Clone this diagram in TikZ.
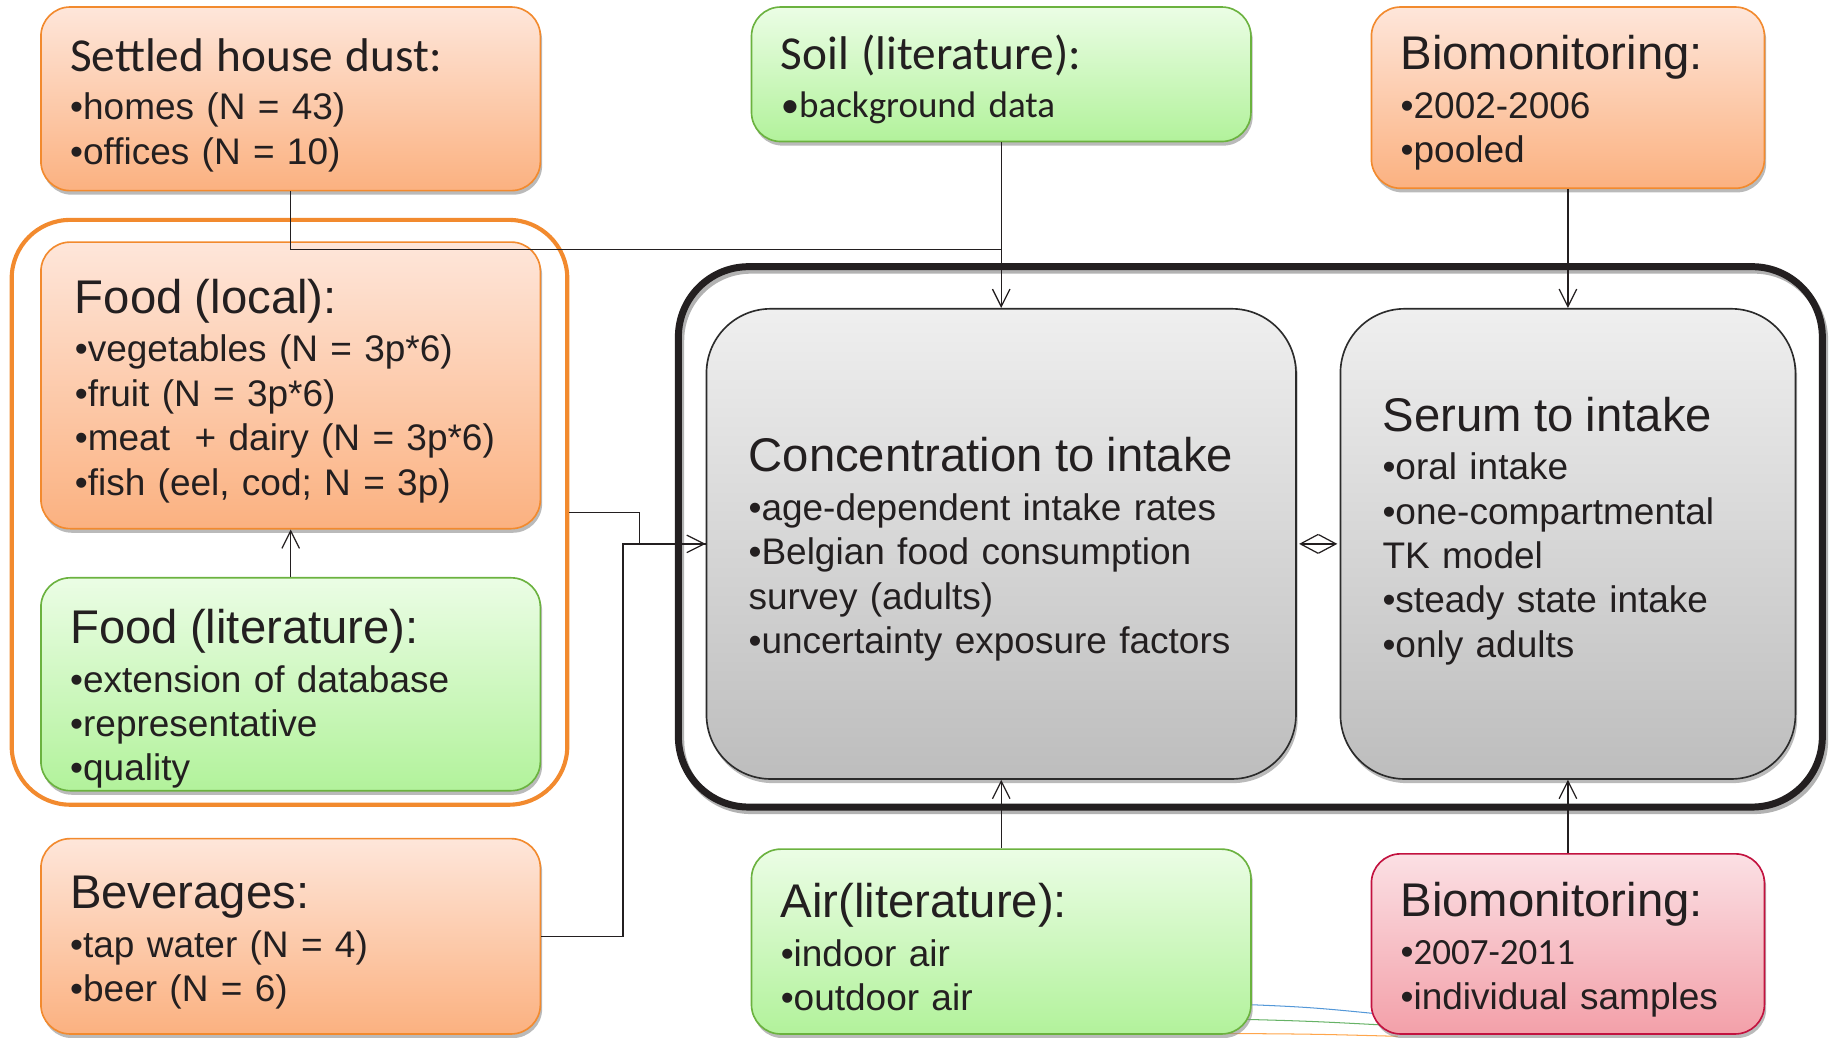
\documentclass[tikz,border=0pt]{standalone}
\usepackage{fontspec}
\setmainfont{Liberation Sans}
\newfontfamily\calfont{Carlito}
\usepackage{xcolor}
\usetikzlibrary{arrows.meta, shadows}
\definecolor{txt}{HTML}{231F20}
\definecolor{orangetop}{HTML}{FEE6DA}
\definecolor{orangebot}{HTML}{FBB180}
\definecolor{orangeline}{HTML}{F28A2E}
\definecolor{greentop}{HTML}{EBFDE5}
\definecolor{greenbot}{HTML}{B2F29B}
\definecolor{greenline}{HTML}{6BB23F}
\definecolor{pinktop}{HTML}{FBE0E4}
\definecolor{pinkbot}{HTML}{F3A0A9}
\definecolor{pinkline}{HTML}{C2123F}
\definecolor{graytop}{HTML}{EFEFEF}
\definecolor{graybot}{HTML}{BDBDBD}
\definecolor{grayline}{HTML}{2B2B2B}
\newcommand{\itemsize}{\fontsize{18}{21.6}\selectfont}
\newcommand{\headsize}{\fontsize{23}{27.6}\selectfont\rule{0pt}{22pt}}
\tikzset{
    srcbox/.style={rounded corners=0.5cm, line width=0.8pt, align=left, inner xsep=0.5cm, inner ysep=0pt,
        text width=7.54cm, font=\itemsize, text=txt,
        drop shadow={shadow xshift=0.03cm, shadow yshift=-0.07cm, fill=black!45, opacity=0.6}},
    orangebox/.style={srcbox, draw=orangeline, top color=orangetop, bottom color=orangebot},
    greenbox/.style={srcbox, draw=greenline, top color=greentop, bottom color=greenbot},
    pinkbox/.style={srcbox, draw=pinkline, top color=pinktop, bottom color=pinkbot},
    graybox/.style={srcbox, rounded corners=1.1cm, draw=grayline, top color=graytop, bottom color=graybot, inner xsep=0.72cm},
    groupframe/.style={rounded corners=1.2cm, line width=3.4pt},
    link/.style={line width=0.6pt, draw=txt},
    flow/.style={link, -{Straight Barb[length=0.3cm, width=0.3cm]}},
    biflow/.style={link, {Straight Barb[length=0.3cm, width=0.32cm]}-{Straight Barb[length=0.3cm, width=0.32cm]}},
    faint/.style={line width=0.5pt}
}

\begin{document}
\begin{tikzpicture}
    \useasboundingbox (0,0) rectangle (31.36,17.74);
    % stray lines behind the bottom boxes
    \draw[faint, cyan!60!blue!70] (20.9,0.58) .. controls (22.4,0.52) .. (23.9,0.37);
    \draw[faint, green!50!black!60] (20.9,0.32) .. controls (22.4,0.28) .. (23.9,0.20);
    \draw[faint, orange!70] (20.6,0.07) .. controls (22.4,0.06) .. (23.9,0.02);
    % group frames
    \node[groupframe, draw=orangeline, line width=2pt, rounded corners=1cm,
        minimum width=9.50cm, minimum height=10.0cm] (foodgroup) at (4.95,8.98) {};
    \node[groupframe, draw=txt, minimum width=19.56cm, minimum height=9.24cm,
        preaction={draw=black!30, transform canvas={shift={(0.04,-0.06)}}}] (model) at (21.38,8.56) {};
    % sources
    \node[orangebox, minimum height=3.14cm] (dust) at (4.97,16.05)
        {{\calfont\headsize Settled house dust:}\\[2pt]
         •homes (N = 43)\\
         •offices (N = 10)};
    \node[greenbox, minimum height=2.30cm] (soil) at (17.12,16.47)
        {{\calfont\headsize Soil (literature):}\\[2pt]
         {\calfont •background data}};
    \node[orangebox, text width=5.72cm, minimum height=3.10cm] (bio1) at (26.81,16.07)
        {{\headsize Biomonitoring:}\\[2pt]
         •2002-2006\\
         •pooled};
    \node[orangebox, inner xsep=0.58cm, text width=7.38cm, minimum height=4.90cm] (foodloc) at (4.97,11.15)
        {{\headsize Food (local):}\\[2pt]
         •vegetables (N = 3p*6)\\
         •fruit (N = 3p*6)\\
         •meat~ + dairy (N = 3p*6)\\
         •fish (eel, cod; N = 3p)};
    \node[greenbox, minimum height=3.64cm] (foodlit) at (4.97,6.04)
        {{\headsize\rule{0pt}{31pt}Food (literature):}\\[2pt]
         •extension of database\\
         •representative\\
         •quality};
    \node[orangebox, minimum height=3.34cm] (bev) at (4.97,1.73)
        {{\headsize Beverages:}\\[2pt]
         •tap water (N = 4)\\
         •beer (N = 6)};
    \node[greenbox, minimum height=3.16cm] (air) at (17.12,1.64)
        {{\headsize Air(literature):}\\[2pt]
         •indoor air\\
         •outdoor air};
    \node[pinkbox, text width=5.72cm, minimum height=3.08cm] (bio2) at (26.81,1.60)
        {{\headsize Biomonitoring:}\\[2pt]
         •{\calfont 2007-2011}\\
         •individual samples};
    % model
    \node[graybox, text width=8.64cm, minimum height=8.04cm] (conc) at (17.12,8.44)
        {{\headsize Concentration to intake}\\[2pt]
         •age-dependent intake rates\\
         •Belgian food consumption\\
         survey (adults)\\
         •uncertainty exposure factors};
    \node[graybox, text width=6.34cm, minimum height=8.04cm] (serum) at (26.81,8.44)
        {{\headsize Serum to intake}\\[2pt]
         •oral intake\\
         •one-compartmental\\
         TK model\\
         •steady state intake\\
         •only adults\\
         \mbox{}};
    % connectors
    \coordinate (join) at (17.12,13.48);
    \draw[link] (dust.south) |- (join);
    \draw[flow] (soil.south) -- (conc.north);
    \draw[flow] (bio1.south) -- (serum.north);
    \draw[flow] (foodlit.north) -- (foodloc.south);
    \draw[flow] (foodgroup.east) -- ++(1.20,0) |- (conc.west);
    \draw[link] (bev.east) -- ++(1.40,0) |- (conc.west);
    \draw[biflow] ([xshift=0.04cm]conc.east) -- ([xshift=-0.04cm]serum.west);
    \draw[flow] (air.north) -- (conc.south);
    \draw[flow] (bio2.north) -- (serum.south);
\end{tikzpicture}
\end{document}
